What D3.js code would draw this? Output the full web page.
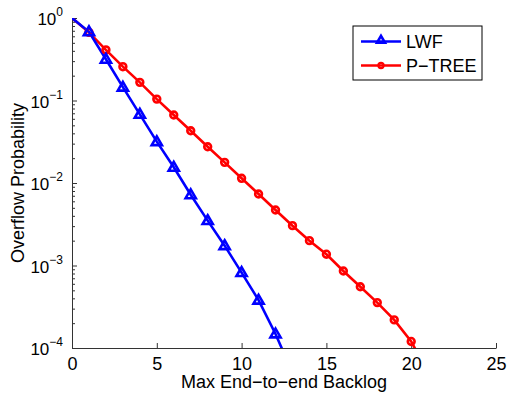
<!DOCTYPE html>
<html>
<head>
<meta charset="utf-8">
<script src="https://cdn.jsdelivr.net/npm/d3@7"></script>
<style>
  body { margin: 0; background: #fff; overflow: hidden; }
  svg { display: block; }
  text { font-family: "Liberation Sans", Arial, Helvetica, sans-serif; fill: #000; }
</style>
</head>
<body>
<div id="chart"></div>
<script>
// data
const lwfX = [0, 1, 2, 3, 4, 5, 6, 7, 8, 9, 10, 11, 12, 13];
const lwfY = [1, 0.68, 0.316, 0.145, 0.068, 0.0317, 0.0155, 0.0072, 0.0035, 0.00174, 0.00082, 0.00038, 0.000148, 0.00005];
const ptreeX = [0, 1, 2, 3, 4, 5, 6, 7, 8, 9, 10, 11, 12, 13, 14, 15, 16, 17, 18, 19, 20, 21];
const ptreeY = [1, 0.67, 0.41, 0.257, 0.166, 0.104, 0.0667, 0.043, 0.0275, 0.0178, 0.0114, 0.00736, 0.00471, 0.00304, 0.002, 0.00137, 0.000858, 0.000553, 0.000355, 0.000219, 0.00012, 0.00005];
const xTicks = [0, 5, 10, 15, 20, 25];
const yExps = [0, -1, -2, -3, -4];
const seriesNames = ['LWF', 'P\u2212TREE'];

const width = 509;
const height = 397;
const margin = {top: 18, right: 13, bottom: 49, left: 72};
const innerWidth = width - margin.left - margin.right;
const innerHeight = height - margin.top - margin.bottom;

const xScale = d3.scaleLinear().domain([0, 25]).range([0, innerWidth]);
const yScale = d3.scaleLog().domain([1e-4, 1]).range([innerHeight, 0]);

const svg = d3.select('#chart').append('svg')
    .attr('width', width)
    .attr('height', height);

const g = svg.append('g')
    .attr('transform', `translate(${margin.left},${margin.top})`);

svg.append('defs').append('clipPath').attr('id', 'plotclip')
  .append('rect')
    .attr('x', margin.left).attr('y', margin.top)
    .attr('width', innerWidth).attr('height', innerHeight);

// x axis, ticks inward
const xAxis = g.append('g')
    .attr('transform', `translate(0,${innerHeight})`)
    .call(d3.axisBottom(xScale).tickValues(xTicks).tickSizeInner(-5).tickSizeOuter(0).tickPadding(9))
    .call(a => a.selectAll('text').style('font-size', '18px'));
xAxis.selectAll('path, line').attr('stroke', '#333');

// y axis: minor ticks, then major ticks
const minor = yScale.ticks().filter(v => Math.abs(Math.log10(v) - Math.round(Math.log10(v))) > 1e-6);
g.append('g')
    .call(d3.axisLeft(yScale).tickValues(minor).tickSizeInner(-3).tickSizeOuter(0).tickFormat(''))
    .call(a => a.select('.domain').remove())
    .call(a => a.selectAll('text').remove())
    .selectAll('line').attr('stroke', '#333');
const yAxis = g.append('g')
    .call(d3.axisLeft(yScale).tickValues(yExps.map(e => Math.pow(10, e))).tickSizeInner(-5).tickSizeOuter(0).tickFormat(''))
    .call(a => a.selectAll('text').remove());
yAxis.selectAll('path, line').attr('stroke', '#333');

// y tick labels 10^n
yExps.forEach(e => {
    const t = g.append('text')
        .attr('x', -9)
        .attr('y', yScale(Math.pow(10, e)) + 7)
        .attr('text-anchor', 'end')
        .style('font-size', '17px');
    t.append('tspan').text('10');
    t.append('tspan')
        .attr('dy', -9)
        .style('font-size', '12px')
        .text(e === 0 ? '0' : '\u2212' + Math.abs(e));
});

// axis titles
g.append('text')
    .attr('x', innerWidth / 2)
    .attr('y', innerHeight + 40)
    .attr('text-anchor', 'middle')
    .style('font-size', '18px')
    .text('Max End\u2212to\u2212end Backlog');

g.append('text')
    .attr('transform', `translate(${-48},${innerHeight / 2}) rotate(-90)`)
    .attr('text-anchor', 'middle')
    .style('font-size', '18px')
    .text('Overflow Probability');

// lines
const lineGen = d3.line()
    .x(d => margin.left + xScale(d[0]))
    .y(d => margin.top + yScale(d[1]));

const lwf = lwfX.map((x, i) => [x, lwfY[i]]);
const ptree = ptreeX.map((x, i) => [x, ptreeY[i]]);

const plot = svg.append('g').attr('clip-path', 'url(#plotclip)');
plot.append('path').datum(ptree)
    .attr('fill', 'none').attr('stroke', '#ff0000').attr('stroke-width', 2.6)
    .attr('d', lineGen);
plot.append('path').datum(lwf)
    .attr('fill', 'none').attr('stroke', '#0000ff').attr('stroke-width', 2.6)
    .attr('d', lineGen);

const tri = d3.symbol().type(d3.symbolTriangle).size(45);
const triSmall = d3.symbol().type(d3.symbolTriangle).size(28);

const inside = d => d[0] >= 1 && d[1] >= 1e-4;

svg.selectAll('.pmark')
    .data(ptree.filter(inside))
    .join('circle')
    .attr('cx', d => margin.left + xScale(d[0]))
    .attr('cy', d => margin.top + yScale(d[1]))
    .attr('r', 3.4)
    .attr('fill', 'none')
    .attr('stroke', '#ff0000')
    .attr('stroke-width', 2.6);

svg.selectAll('.lmark')
    .data(lwf.filter(inside))
    .join('path')
    .attr('transform', d => `translate(${margin.left + xScale(d[0])},${margin.top + yScale(d[1]) + 0.5})`)
    .attr('d', tri)
    .attr('fill', 'none')
    .attr('stroke', '#0000ff')
    .attr('stroke-width', 2.6);

// legend
const legend = svg.append('g').attr('transform', 'translate(353,26)');
legend.append('rect')
    .attr('width', 129).attr('height', 54)
    .attr('fill', '#fff').attr('stroke', '#000').attr('stroke-width', 1);

const legColors = ['#0000ff', '#ff0000'];
seriesNames.forEach((name, i) => {
    const ly = 15.5 + i * 24;
    legend.append('line')
        .attr('x1', 8).attr('x2', 48).attr('y1', ly).attr('y2', ly)
        .attr('stroke', legColors[i]).attr('stroke-width', 2.6);
    if (i === 0) {
        legend.append('path')
            .attr('transform', `translate(28,${ly - 1})`)
            .attr('d', triSmall)
            .attr('fill', 'none').attr('stroke', legColors[i]).attr('stroke-width', 2.6);
    } else {
        legend.append('circle')
            .attr('cx', 28).attr('cy', ly).attr('r', 2.6)
            .attr('fill', 'none').attr('stroke', legColors[i]).attr('stroke-width', 2.2);
    }
    legend.append('text')
        .attr('x', 53).attr('y', ly + 6.5)
        .style('font-size', '18px')
        .text(name);
});
</script>
</body>
</html>
